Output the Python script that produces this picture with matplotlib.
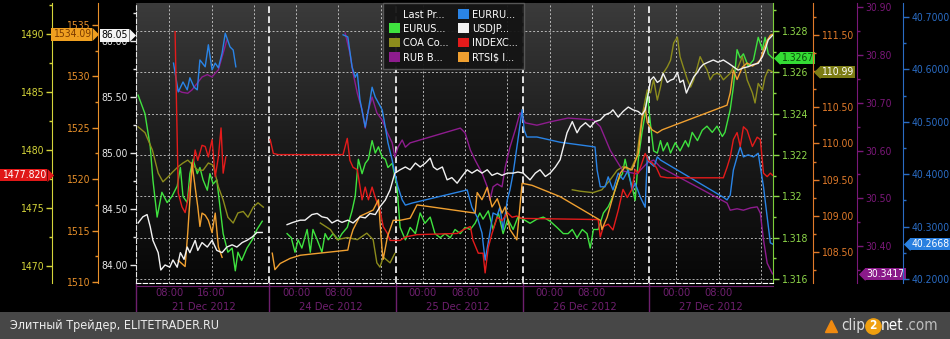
import matplotlib
matplotlib.use('Agg')

import numpy as np
import matplotlib.pyplot as plt
import matplotlib.transforms as mtransforms
from matplotlib.patches import Patch, Rectangle
from matplotlib.lines import Line2D
from matplotlib.colors import LinearSegmentedColormap
from matplotlib.ticker import AutoMinorLocator

plt.rcParams['font.family'] = ['DejaVu Sans']
plt.rcParams['font.stretch'] = 'condensed'

nan = np.nan

# ось времени: часы от начала 21 Dec 2012, по 24 часа на торговый день (выходные выкинуты)
days = ['21 Dec 2012', '24 Dec 2012', '25 Dec 2012', '26 Dec 2012', '27 Dec 2012']
day_starts = [0, 24, 48, 72, 96]
time_ticks = [5.1, 13.1, 29.1, 37.1, 53.1, 61.1, 77.1, 85.1, 101.1, 109.1]
time_labels = ['08:00', '16:00', '00:00', '08:00', '00:00', '08:00', '00:00', '08:00', '00:00', '08:00']

# --- EURUSD ---
eurusd_t = [-0.8, 0.5, 1.5, 2.0, 2.8, 3.7, 4.7, 5.6, 6.6, 7.2, 7.7, 8.5, 9.0, 9.6, 10.4, 10.9, 11.5, 12.3, 12.8, 13.4,
            14.1, 14.7, 15.3, 16.2, 17.0, 17.6, 18.1, 18.8, 19.8, 20.8, 21.7, 22.7, nan,
            27.4, 28.2, 28.9, 29.5, 30.2, 31.2, 31.8, 32.3, 33.1, 34.0, 34.6, 35.2, 36.1, 37.1, 37.8, 38.8, 39.7, 40.3,
            40.9, 41.6, 42.2, 42.8, 43.5, 44.1, 44.7, 45.4, 46.0, 46.5, 47.3,
            48.2, 48.8, 49.8, 50.7, 51.7, 52.6, 53.5, 54.5, 55.4, 56.4, 57.3, 58.3, 59.2, 60.2, 61.1, 62.1, 63.0, 63.9,
            64.5, 65.5, 66.4, 67.4, 68.3, 69.2, 70.2, 71.1,
            72.1, 73.4, 74.7, 75.9, 77.2, 78.5, 79.7, 80.6, 81.4, 82.3, 83.3, 84.2, 84.8, 85.4, 86.3, 87.3, 88.2, 89.1,
            90.1, 90.9, 91.4, 92.0, 92.7, 93.3, 93.9, 94.6, 95.2, 95.6,
            96.2, 96.8, 97.5, 98.1, 98.6, 99.4, 100.0, 100.9, 101.8, 102.8, 103.4, 104.1, 105.1, 106.0, 106.9, 107.9,
            108.8, 109.8, 110.3, 111.3, 111.9, 112.6, 113.2, 113.8, 114.7, 115.7, 116.6, 117.4, 117.9, 118.5, 119.3]
eurusd_v = [1.3249, 1.3240, 1.3224, 1.3208, 1.3190, 1.3202, 1.3197, 1.3200, 1.3205, 1.3214, 1.3200, 1.3197, 1.3211,
            1.3218, 1.3211, 1.3214, 1.3208, 1.3203, 1.3211, 1.3206, 1.3208, 1.3195, 1.3182, 1.3173, 1.3175, 1.3164,
            1.3173, 1.3169, 1.3175, 1.3179, 1.3184, 1.3188, nan,
            1.3182, 1.3180, 1.3173, 1.3179, 1.3175, 1.3184, 1.3173, 1.3184, 1.3179, 1.3173, 1.3182, 1.3179, 1.3182,
            1.3179, 1.3182, 1.3185, 1.3193, 1.3200, 1.3218, 1.3211, 1.3216, 1.3218, 1.3227, 1.3221, 1.3224, 1.3219,
            1.3218, 1.3214, 1.3216,
            1.3205, 1.3185, 1.3179, 1.3185, 1.3182, 1.3192, 1.3187, 1.3190, 1.3182, 1.3180, 1.3182, 1.3180, 1.3184,
            1.3182, 1.3185, 1.3184, 1.3187, 1.3192, 1.3189, 1.3193, 1.3184, 1.3192, 1.3182, 1.3189, 1.3184, 1.3190,
            1.3189, 1.3187, 1.3189, 1.3190, 1.3188, 1.3185, 1.3182, 1.3182, 1.3184, 1.3180, 1.3184, 1.3182, 1.3175,
            1.3184, 1.3184, 1.3192, 1.3195, 1.3200, 1.3208, 1.3211, 1.3218, 1.3211, 1.3205, 1.3198, 1.3218, 1.3231,
            1.3240, 1.3250,
            1.3235, 1.3222, 1.3221, 1.3227, 1.3222, 1.3226, 1.3221, 1.3226, 1.3222, 1.3227, 1.3224, 1.3231, 1.3227,
            1.3232, 1.3234, 1.3231, 1.3234, 1.3229, 1.3231, 1.3242, 1.3253, 1.3271, 1.3267, 1.3269, 1.3263, 1.3266,
            1.3277, 1.3271, 1.3277, 1.3269, 1.3267]

# --- USDJPY ---
usdjpy_t = [-0.8, 0.1, 0.9, 1.5, 2.0, 3.0, 3.5, 4.3, 5.2, 5.8, 6.6, 7.2, 7.9, 8.5, 9.0, 10.0, 10.5, 11.3, 12.3, 13.2,
            14.1, 15.1, 16.0, 17.0, 17.9, 18.9, 19.8, 20.8, 21.7, 22.7, nan,
            27.4, 28.5, 29.9, 30.8, 32.1, 33.1, 34.0, 35.0, 35.9, 36.9, 37.8, 38.9, 39.9, 41.2, 42.2, 43.1, 44.1, 45.0,
            46.0, 46.9,
            47.8, 48.8, 49.8, 50.7, 51.7, 52.6, 53.6, 54.5, 55.1, 55.8, 56.8, 57.7, 58.6, 59.6, 60.5, 61.5, 62.4, 63.4,
            64.3, 65.3, 66.2, 67.2, 68.1, 69.1, 70.2, 71.1,
            72.1, 73.4, 74.4, 75.3, 76.3, 77.2, 78.2, 79.1, 79.7, 80.4, 81.4, 82.3, 82.9, 83.9, 84.8, 85.7, 86.7, 87.6,
            88.6, 89.1, 90.1, 91.0, 92.0, 92.9, 93.9, 94.6, 95.2, 95.8,
            96.2, 96.8, 97.5, 98.1, 98.6, 99.4, 100.0, 100.6, 101.3, 101.8, 102.4, 103.0, 103.8, 104.4, 105.1, 105.6,
            106.2, 107.1, 108.1, 109.0, 110.0, 111.0, 111.9, 112.8, 113.8, 114.7, 115.7, 116.6, 117.4, 117.9, 118.5,
            119.3]
usdjpy_v = [84.375, 84.43, 84.45, 84.34, 84.22, 84.11, 83.955, 84.00, 83.98, 84.045, 83.98, 84.11, 84.05, 84.16,
            84.11, 84.22, 84.13, 84.20, 84.16, 84.22, 84.13, 84.11, 84.16, 84.18, 84.16, 84.20, 84.22, 84.25, 84.29,
            84.29, nan,
            84.36, 84.38, 84.40, 84.40, 84.45, 84.46, 84.43, 84.42, 84.375, 84.40, 84.38, 84.40, 84.375, 84.43, 84.42,
            84.46, 84.45, 84.52, 84.58, 84.67,
            84.82, 84.85, 84.875, 84.85, 84.91, 84.875, 84.91, 84.955, 84.875, 84.85, 84.875, 84.76, 84.78, 84.73,
            84.79, 84.85, 84.82, 84.85, 84.82, 84.85, 84.80, 84.82, 84.80, 84.82, 84.82, 84.83,
            84.82, 84.76, 84.82, 84.85, 84.79, 84.82, 84.875, 84.94, 85.05, 85.18, 85.28, 85.18, 85.23, 85.27, 85.23,
            85.28, 85.295, 85.34, 85.36, 85.385, 85.32, 85.37, 85.41, 85.385, 85.37, 85.34, 85.385, 85.535,
            85.65, 85.68, 85.63, 85.65, 85.71, 85.63, 85.65, 85.66, 85.72, 85.63, 85.65, 85.535, 85.62, 85.68, 85.72,
            85.76, 85.79, 85.81, 85.83, 85.81, 85.83, 85.80, 85.77, 85.74, 85.76, 85.77, 85.79, 85.80, 85.86, 85.92,
            86.01, 86.05]

# --- INDEXCF ---
indexcf_t = [6.2, 6.8, 7.5, 8.1, 8.6, 9.4, 10.0, 10.5, 11.3, 11.9, 12.5, 13.2, 13.8, 14.4, 14.9, 15.3, 15.8, nan,
             24.2, 24.8, 25.7, 38.0, 38.8, 39.3, 39.9, 40.7, 41.6, 42.2, 42.8, 43.5, 44.1, 45.0, 45.6, 46.4, 46.9, 47.5,
             48.8, 49.8, 52.0, 59.6, 60.7, 62.1, 62.6, 63.6, 64.5, 64.9, 65.5, 66.2, 67.2, 68.1, 69.1, 70.0, 70.9, 71.9,
             86.3, 86.7, 87.3, 88.2, 89.1, 90.1, 91.0, 91.8, 92.7, 93.3, 93.9, 94.6, 95.2, 95.8,
             96.5, 97.3, 98.1, 99.4, 110.0, 110.7, 111.3, 111.9, 112.6, 113.2, 113.8, 114.5, 115.5, 116.4, 117.0,
             117.6, 118.3, 118.9, 119.3]
indexcf_v = [1490.2, 1476.3, 1475.1, 1474.6, 1475.7, 1478.0, 1480.0, 1479.1, 1480.4, 1480.3, 1479.4, 1480.9, 1477.7,
             1479.4, 1481.9, 1478.0, 1479.4, nan,
             1480.9, 1479.7, 1479.6, 1479.6, 1481.0, 1479.1, 1478.5, 1478.3, 1475.7, 1476.8, 1475.7, 1476.8, 1475.9,
             1474.8, 1473.4, 1472.8, 1472.2, 1472.2,
             1472.2, 1472.5, 1472.7, 1472.8, 1473.1, 1473.4, 1472.2, 1471.1, 1471.1, 1469.4, 1471.6, 1472.8, 1474.2,
             1473.9, 1474.6, 1474.2, 1474.3, 1474.1,
             1474.0, 1472.5, 1473.4, 1473.6, 1473.1, 1474.8, 1476.6, 1475.9, 1476.6, 1478.3, 1478.0, 1478.9, 1479.7,
             1479.1,
             1478.9, 1478.5, 1477.7, 1477.6, 1477.6, 1478.5, 1479.4, 1480.9, 1481.5, 1480.3, 1482.0, 1481.7, 1480.3,
             1481.1, 1480.9, 1478.0, 1477.7, 1478.0, 1477.82]

# --- EURRUB ---
eurrub_t = [5.9, 6.8, 7.7, 8.5, 9.0, 9.8, 10.4, 10.9, 11.9, 12.5, 13.2, 13.8, 14.4, 15.1, 15.7, 16.6, 17.2, 17.7, nan,
            38.0, 38.9, 39.7, 40.3, 40.7, 41.2, 42.2, 42.8, 43.5, 44.1, 44.7, 45.4, 46.0, 46.5, 47.3, 47.8, 48.4, 49.2,
            49.8, 51.1, 61.5, 62.4, 63.4, 64.3, 64.9, 65.8, 66.4, 67.2, 67.7, 68.3, 69.1, 69.6, 70.2, 71.1, 71.9, 72.3,
            72.8, 74.7, 79.1, 85.7, 86.1, 86.7, 87.6, 88.2, 89.1, 90.1, 91.0, 92.0, 92.7, 93.3, 94.3, 95.2, 95.6, 96.2,
            96.9, 97.5, 98.1, 110.0, 110.7, 111.3, 111.9, 112.6, 113.2, 113.8, 114.7, 115.7, 116.6, 117.6, 118.3,
            118.9, 119.3]
eurrub_v = [40.612, 40.557, 40.576, 40.561, 40.584, 40.566, 40.561, 40.618, 40.605, 40.647, 40.599, 40.612, 40.603,
            40.631, 40.669, 40.643, 40.637, 40.605, nan,
            40.666, 40.662, 40.605, 40.585, 40.593, 40.542, 40.490, 40.523, 40.566, 40.547, 40.536, 40.523, 40.490,
            40.460, 40.427, 40.402, 40.376, 40.351, 40.341, 40.345, 40.370, 40.337, 40.318, 40.288, 40.236, 40.288,
            40.326, 40.322, 40.337, 40.294, 40.351, 40.370, 40.402, 40.465, 40.523, 40.484, 40.471, 40.471, 40.461,
            40.452, 40.408, 40.376, 40.376, 40.395, 40.370, 40.402, 40.390, 40.408, 40.370, 40.383, 40.356, 40.337,
            40.433, 40.421, 40.415, 40.433, 40.427, 40.356, 40.351, 40.360, 40.408, 40.433, 40.452, 40.433, 40.437,
            40.433, 40.440, 40.376, 40.318, 40.269, 40.2668]

# --- RUB ---
rub_t = [6.6, 7.5, 8.6, 9.4, 10.4, 11.3, 12.3, 13.2, 13.8, 14.4, 15.3, 16.0, nan,
         38.4, 39.3, 39.9, 40.7, 41.6, 42.2, 42.8, 43.5, 44.4, 45.4, 46.4, 47.3, 47.8, 48.4, 49.2, 49.8, 50.7, 60.2,
         61.1, 62.1, 63.0, 64.3, 65.3, 65.8, 66.4, 67.2, 68.1, 68.7, 69.6, 70.6, 71.5, 72.5, 74.7, 77.2, 80.6, 85.4,
         86.7, 88.6, 91.0, 93.6, 95.6, 96.8, 98.1, 110.7, 111.3, 112.6, 113.8, 115.2, 116.4, 117.0, 117.6, 118.3, 119.3]
rub_v = [30.727, 30.722, 30.720, 30.727, 30.741, 30.754, 30.759, 30.754, 30.762, 30.769, 30.804, 30.831, nan,
         30.846, 30.804, 30.762, 30.720, 30.685, 30.647, 30.685, 30.712, 30.679, 30.664, 30.637, 30.616, 30.586,
         30.607, 30.622, 30.607, 30.616, 30.647, 30.637, 30.601, 30.580, 30.553, 30.524, 30.496, 30.524, 30.530,
         30.524, 30.565, 30.607, 30.643, 30.679, 30.658, 30.653, 30.660, 30.668, 30.664, 30.650, 30.600, 30.557,
         30.551, 30.574, 30.580, 30.565, 30.490, 30.475, 30.478, 30.475, 30.480, 30.482, 30.469, 30.413, 30.364,
         30.3417]

# --- RTSI$ ---
rtsi_t = [6.8, 8.1, 8.6, 9.0, 9.4, 10.0, 10.5, 10.9, 11.3, 11.9, 12.5, 13.2, 13.8, 14.4, 15.1, nan,
          24.6, 25.1, 26.1, 28.0, 29.9, 38.9, 39.3, 39.9, 41.2, 42.5, 43.7, 44.4, 44.7, 45.0, 45.4, 45.6, 46.4, 47.5,
          48.8, 50.7, 52.0, 63.0, 63.4, 64.3, 65.3, 66.2, 67.2, 68.1, 68.7, 69.6, 70.9, 71.9, 73.8, 79.1, 86.7, 87.0,
          88.0, 89.1, 90.5, 91.4, 92.7, 93.9, 94.6, 95.2, 95.6, 96.5, 97.5, 98.4, 110.7, 111.3, 111.9, 112.6, 113.6,
          114.5, 115.5, 116.4, 117.0, 117.6, 118.3, 118.9, 119.3]
rtsi_v = [1512.1, 1511.5, 1514.8, 1518.0, 1521.6, 1519.2, 1517.3, 1515.4, 1516.7, 1516.5, 1516.0, 1514.8, 1516.7,
          1513.4, 1512.4, nan,
          1512.8, 1511.2, 1511.8, 1512.3, 1512.6, 1513.1, 1514.1, 1515.1, 1516.4, 1516.7, 1517.0, 1517.7, 1518.0,
          1515.8, 1513.1, 1512.2, 1514.4, 1516.0, 1516.0, 1516.2, 1517.5, 1516.7, 1518.7, 1518.0, 1519.2, 1517.3,
          1518.1, 1516.7, 1517.3, 1515.1, 1514.1, 1519.6, 1519.4, 1518.3, 1516.0, 1515.1, 1516.3, 1518.3, 1520.6,
          1521.2, 1520.9, 1522.5, 1525.8, 1527.0, 1525.5, 1524.8, 1524.5, 1524.8, 1527.2, 1528.4, 1530.6, 1529.7,
          1530.9, 1531.3, 1531.0, 1531.3, 1531.6, 1532.6, 1533.5, 1534.0, 1534.09]

# --- COA (Brent) ---
coa_t = [-0.8, 0.5, 1.9, 3.0, 3.9, 4.9, 5.8, 6.8, 7.7, 8.6, 9.6, 10.5, 11.5, 12.5, 13.4, 14.4, 15.3, 16.2, 17.2, 18.1,
         19.1, 20.0, 21.0, 21.9, 22.9, nan,
         33.7, 35.6, 36.9, 38.8, 40.7, 42.5, 43.7, 44.4, 45.0, 45.6, 46.9, 47.8, nan,
         81.4, 82.9, 85.3, 87.0, 88.6, 89.9, 91.0, 92.4, 93.6, 94.6, 95.2, 95.6, 96.2, 96.8, 97.5, 98.1, 98.6, 99.4,
         100.0, 100.6, 101.3, 101.8, 102.4, 103.2, 103.8, 104.4, 105.1, 105.6, 106.2, 106.9, 107.5, 108.1, 108.8,
         109.4, 110.0, 111.3, 111.9, 112.6, 113.6, 114.5, 115.5, 116.0, 116.6, 117.4, 117.9, 118.5, 119.3]
coa_v = [110.23, 110.15, 109.91, 109.59, 109.47, 109.54, 109.61, 109.68, 109.73, 109.77, 109.70, 109.63, 109.63,
         109.73, 109.70, 109.40, 109.22, 108.98, 108.90, 109.04, 109.06, 108.98, 109.12, 109.18, 109.12, nan,
         108.90, 108.81, 108.67, 108.70, 108.67, 108.76, 108.67, 108.35, 108.29, 108.43, 108.35, 108.48, nan,
         109.36, 109.34, 109.32, 109.36, 109.50, 109.63, 109.68, 109.63, 109.82, 110.37, 110.60, 110.74, 110.70,
         110.88, 110.60, 110.78, 110.97, 111.06, 111.15, 111.39, 111.47, 111.20, 111.06, 110.88, 110.78, 110.88,
         111.06, 111.20, 111.11, 111.02, 110.88, 110.95, 110.97, 110.95, 110.88, 110.97, 111.06, 111.02, 111.20,
         110.88, 110.70, 110.56, 110.83, 110.74, 110.92, 111.02, 110.99]

# подписи шкал
indexcf_ticks = [1470, 1475, 1480, 1485, 1490]
rtsi_ticks = [1510, 1515, 1520, 1525, 1530, 1535]
usdjpy_ticks = [84.0, 84.5, 85.0, 85.5, 86.0]
usdjpy_labels = ['84.00', '84.50', '85.00', '85.50', '86.00']
eurusd_ticks = [1.316, 1.318, 1.32, 1.322, 1.324, 1.326, 1.328]
eurusd_labels = ['1.316', '1.318', '1.32', '1.322', '1.324', '1.326', '1.328']
coa_ticks = [108.5, 109.0, 109.5, 110.0, 110.5, 111.0, 111.5]
coa_labels = ['108.50', '109.00', '109.50', '110.00', '110.50', '111.00', '111.50']
rub_ticks = [30.4, 30.5, 30.6, 30.7, 30.8, 30.9]
rub_labels = ['30.40', '30.50', '30.60', '30.70', '30.80', '30.90']
eurrub_ticks = [40.2, 40.3, 40.4, 40.5, 40.6, 40.7]
eurrub_labels = ['40.2000', '40.3000', '40.4000', '40.5000', '40.6000', '40.7000']

legend_names = ['Last Pr...', 'EURUS...', 'COA Co...', 'RUB B...', 'EURRU...', 'USDJP...', 'INDEXC...', 'RTSI$ I...']

# цвета
c_eurusd = '#3fe23f'
c_coa = '#8c8c1c'
c_rub = '#8e1c8e'
c_eurrub = '#2a84e6'
c_usdjpy = '#f2f2f2'
c_indexcf = '#e41b1b'
c_rtsi = '#f0a030'
purple = '#6e1f6e'
FS = 7.5  # размер подписей шкал

W, H = 950, 339
fig = plt.figure(figsize=(W / 100, H / 100), dpi=100, facecolor='black')
ax = fig.add_axes([136 / W, 56 / H, 637 / W, 280 / H])
ax.set_facecolor('black')

# фон: вертикальный градиент
bg = LinearSegmentedColormap.from_list('bg', ['#070707', '#1b1b1b', '#3b3b3b'])
ax.imshow(np.linspace(0, 1, 256).reshape(-1, 1), cmap=bg, origin='lower', extent=[0, 1, 0, 1],
          transform=ax.transAxes, aspect='auto', zorder=0)
ax.axvspan(48, 72, color='black', alpha=0.35, lw=0, zorder=0.1)

ax.plot(eurusd_t, eurusd_v, color=c_eurusd, lw=1.0)


def make_axis(side, pos, color, lim, ticks, labels):
    a = ax.twinx()
    a.set_ylim(lim)
    for s in a.spines.values():
        s.set_visible(False)
    sp = a.spines[side]
    sp.set_visible(True)
    sp.set_position(('axes', pos))
    sp.set_color(color)
    a.yaxis.set_ticks_position(side)
    a.set_yticks(ticks, labels)
    a.yaxis.set_minor_locator(AutoMinorLocator(2))
    a.tick_params(axis='y', which='both', colors=color, direction='out', width=1, labelsize=FS, pad=2)
    a.tick_params(axis='y', which='major', length=4)
    a.tick_params(axis='y', which='minor', length=2.5)
    return a


ax_coa = make_axis('right', (813 - 136) / 637, '#e07a2a', (108.071, 111.942), coa_ticks, coa_labels)
ax_coa.plot(coa_t, coa_v, color=c_coa, lw=1.0)
ax_rub = make_axis('right', (857 - 136) / 637, '#7a1878', (30.3225, 30.909), rub_ticks, rub_labels)
ax_rub.plot(rub_t, rub_v, color=c_rub, lw=1.0)
ax_eurrub = make_axis('right', (903 - 136) / 637, '#2a6cc4', (40.1924, 40.7267), eurrub_ticks, eurrub_labels)
ax_eurrub.plot(eurrub_t, eurrub_v, color=c_eurrub, lw=1.0)
ax_idx = make_axis('left', (52 - 136) / 637, '#d4d43a', (1468.53, 1492.67), indexcf_ticks,
                   [str(v) for v in indexcf_ticks])
ax_idx.plot(indexcf_t, indexcf_v, color=c_indexcf, lw=1.0)
ax_rtsi = make_axis('left', (98 - 136) / 637, '#e8902a', (1509.90, 1537.14), rtsi_ticks,
                    [str(v) for v in rtsi_ticks])
ax_rtsi.plot(rtsi_t, rtsi_v, color=c_rtsi, lw=1.0)
ax_jpy = make_axis('left', 0.0, '#e6e6e6', (83.839, 86.339), usdjpy_ticks, usdjpy_labels)
ax_jpy.spines['left'].set_linestyle((0, (4, 2)))
ax_jpy.plot(usdjpy_t, usdjpy_v, color=c_usdjpy, lw=1.0)

# главная ось = EURUSD, шкала справа (после twinx, т.к. он сбрасывает её влево)
ax.set_xlim(-1.2, 119.4)
ax.set_ylim(1.31581, 1.32936)
ax.set_yticks(eurusd_ticks, eurusd_labels)
ax.yaxis.tick_right()
ax.yaxis.set_minor_locator(AutoMinorLocator(2))
ax.tick_params(axis='y', which='both', colors='#8fd84a', direction='out', width=1, labelsize=FS, pad=2)
ax.tick_params(axis='y', which='major', length=4)
ax.tick_params(axis='y', which='minor', length=2.5)
ax.spines['right'].set_color('#7ccf3a')
ax.spines['left'].set_visible(False)
ax.spines['top'].set_visible(False)
ax.spines['bottom'].set_color('white')
ax.spines['bottom'].set_linestyle((0, (4, 2)))

ax.set_xticks(time_ticks, time_labels)
ax.set_xticks([d + h for d in day_starts for h in (5.1, 13.1, 21.1)], minor=True)
ax.tick_params(axis='x', which='both', length=0, colors=purple, labelsize=8, pad=3.5)
ax.set_axisbelow(True)
ax.grid(axis='y', which='major', color='#cfcfcf', lw=0.7, ls=(0, (2, 2)), alpha=0.85)
ax.grid(axis='x', which='both', color='#cfcfcf', lw=0.7, ls=(0, (2, 2)), alpha=0.85)

for d in day_starts[1:]:
    ax.axvline(d, color='white', lw=1.2, ls=(0, (4, 2)), zorder=1)

xtr = ax.get_xaxis_transform()
for d, name in zip(day_starts, days):
    ax.text(d + 11.7, -0.084, name, transform=xtr, ha='center', va='center', color=purple, fontsize=8,
            clip_on=False)
for d in [-1.2] + day_starts[1:]:
    ax.axvline(d, ymin=-0.104, ymax=0, color=purple, lw=1, clip_on=False)
ax.plot([0, 1], [-0.01, -0.01], transform=ax.transAxes, color=purple, lw=0.8, clip_on=False)


# ценовые ярлыки последних значений
def price_tag(a, value, text, tip_px, side, fc, tc):
    tr = mtransforms.blended_transform_factory(ax.transAxes, a.transData)
    tip = (tip_px - 136) / 637
    w = 5 / 637
    if side == 'left':
        base = tip - w
        a.text(base - 1.2 / 637, value, text, transform=tr, ha='right', va='center', color=tc, fontsize=FS,
               clip_on=False, zorder=6, bbox=dict(boxstyle='square,pad=0.12', fc=fc, ec='none'))
        mk = [(0, -1), (1, 0), (0, 1), (0, -1)]
    else:
        base = tip + w
        a.text(base + 1.2 / 637, value, text, transform=tr, ha='left', va='center', color=tc, fontsize=FS,
               clip_on=False, zorder=6, bbox=dict(boxstyle='square,pad=0.12', fc=fc, ec='none'))
        mk = [(0, -1), (-1, 0), (0, 1), (0, -1)]
    a.plot([base], [value], marker=mk, ms=9.5, mfc=fc, mec='none', ls='none', transform=tr, clip_on=False,
           zorder=6)


price_tag(ax_idx, indexcf_v[-1], f'{indexcf_v[-1]:.3f}', 52, 'left', '#e01818', 'white')
price_tag(ax_rtsi, rtsi_v[-1], f'{rtsi_v[-1]:.2f}', 97, 'left', '#f0a020', '#7a3a00')
price_tag(ax_jpy, usdjpy_v[-1], f'{usdjpy_v[-1]:.2f}', 134, 'left', '#f4f4f4', 'black')
price_tag(ax, eurusd_v[-1], f'{eurusd_v[-1]:.4f}', 775, 'right', '#34dc34', '#0a4a0a')
price_tag(ax_coa, coa_v[-1], f'{coa_v[-1]:.2f}', 815, 'right', '#7c7c14', 'white')
price_tag(ax_rub, rub_v[-1], f'{rub_v[-1]:.4f}', 860, 'right', '#8a1a8a', 'white')
price_tag(ax_eurrub, eurrub_v[-1], f'{eurrub_v[-1]:.4f}', 905, 'right', '#2a80e0', 'white')

# легенда
handle_colors = ['none', c_eurusd, c_coa, c_rub, c_eurrub, c_usdjpy, c_indexcf, c_rtsi]
handles = [Patch(fc=c, ec='none') for c in handle_colors]
leg = fig.legend(handles, legend_names, loc='upper left', bbox_to_anchor=(383 / W, 1 - 3 / H), ncol=2,
                 fontsize=7.8, labelcolor='white', facecolor='#151515', edgecolor='#5a5a5a', framealpha=0.95,
                 fancybox=False, handlelength=1.0, handleheight=1.0, handletextpad=0.3, columnspacing=0.9,
                 labelspacing=0.35, borderpad=0.55, borderaxespad=0)

# нижняя плашка
fig.patches.append(Rectangle((0, 0), 1, 27 / H, transform=fig.transFigure, fc='#474747', ec='none', zorder=0))
fig.text(10 / W, 13.5 / H, 'Элитный Трейдер, ELITETRADER.RU', color='#ececec', fontsize=9, va='center')
fig.add_artist(Line2D([831 / W], [13 / H], marker='^', ms=8, color='#f08a10', transform=fig.transFigure))
fig.text(865 / W, 13.5 / H, 'clip', color='#dcdcdc', fontsize=11, va='center', ha='right')
fig.add_artist(Line2D([873 / W], [13.5 / H], marker='o', ms=11, color='#f0a010', transform=fig.transFigure))
fig.text(873 / W, 13.5 / H, '2', color='white', fontsize=8.5, va='center', ha='center', fontweight='bold')
fig.text(881 / W, 13.5 / H, 'net', color='white', fontsize=11, va='center')
fig.text(904 / W, 13.5 / H, '.com', color='#bdbdbd', fontsize=11, va='center')

fig.savefig('out.png', dpi=100, facecolor='black')
